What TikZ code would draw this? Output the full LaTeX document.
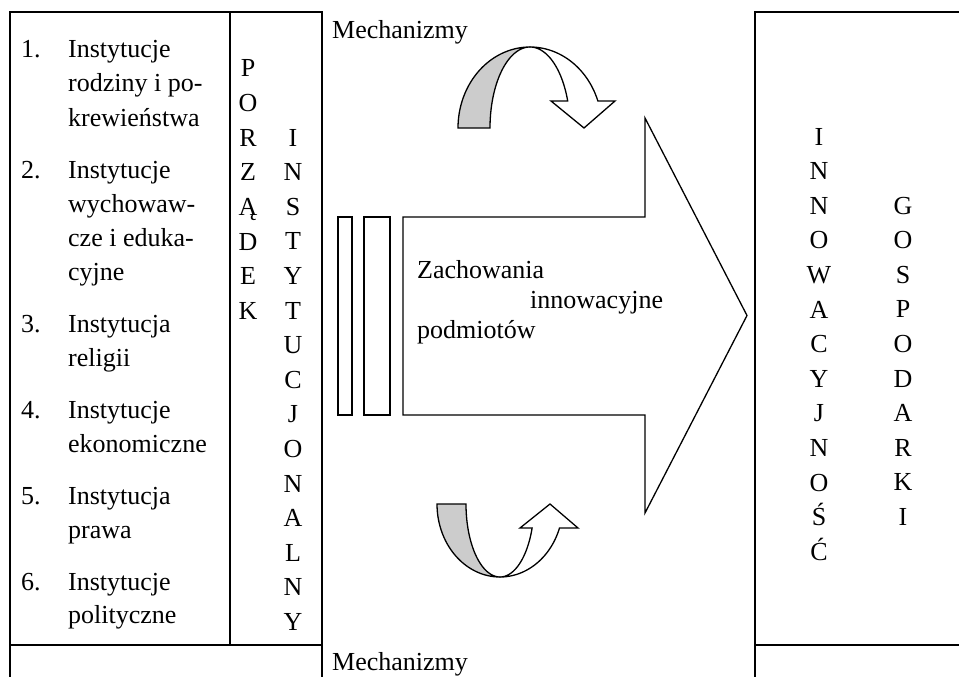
\documentclass[tikz,border=0pt]{standalone}
\usepackage{fontspec}
\setmainfont{Liberation Serif}
\definecolor{ribbongray}{RGB}{204,204,204}
\begin{document}
\begin{tikzpicture}[x=1pt,y=-1pt,
  frame/.style={line width=2.2pt, line cap=rect},
  thinline/.style={line width=1.3pt, line join=miter},
  txt/.style={inner sep=0pt, font=\fontsize{26}{34.6}\selectfont},
  lbl/.style={txt, anchor=base west},
  letter/.style={txt, anchor=base},
]
\useasboundingbox (0,0) rectangle (959,677);

% ---------- left frame ----------
\draw[frame] (10,677) -- (10,12) -- (322,12) -- (322,677);
\draw[frame] (230,12) -- (230,645);
\draw[frame] (10,645) -- (322,645);

% ---------- right frame ----------
\draw[frame] (755,677) -- (755,12) -- (959,12);
\draw[frame] (755,645) -- (959,645);

% ---------- list ----------
\node[lbl] (n1) at (21,58) {1.};
\node[lbl] (t1a) at (68,58) {Instytucje};
\node[lbl] (t1b) at (68,92) {rodziny i po-};
\node[lbl] (t1c) at (68,126) {krewieństwa};
\node[lbl] (n2) at (21,178) {2.};
\node[lbl] (t2a) at (68,178) {Instytucje};
\node[lbl] (t2b) at (68,212) {wychowaw-};
\node[lbl] (t2c) at (68,246) {cze i eduka-};
\node[lbl] (t2d) at (68,280) {cyjne};
\node[lbl] (n3) at (21,332) {3.};
\node[lbl] (t3a) at (68,332) {Instytucja};
\node[lbl] (t3b) at (68,366) {religii};
\node[lbl] (n4) at (21,418) {4.};
\node[lbl] (t4a) at (68,418) {Instytucje};
\node[lbl] (t4b) at (68,452) {ekonomiczne};
\node[lbl] (n5) at (21,504) {5.};
\node[lbl] (t5a) at (68,504) {Instytucja};
\node[lbl] (t5b) at (68,538) {prawa};
\node[lbl] (n6) at (21,590) {6.};
\node[lbl] (t6a) at (68,590) {Instytucje};
\node[lbl] (t6b) at (68,623) {polityczne};

% ---------- vertical words ----------
\foreach \c [count=\i from 0] in {P,O,R,Z,Ą,D,E,K}
  \node[letter] (por\i) at (248,{77+34.6*\i}) {\c};
\foreach \c [count=\i from 0] in {I,N,S,T,Y,T,U,C,J,O,N,A,L,N,Y}
  \node[letter] (ins\i) at (293,{146+34.6*\i}) {\c};
\foreach \c [count=\i from 0] in {I,N,N,O,W,A,C,Y,J,N,O,Ś,Ć}
  \node[letter] (inn\i) at (819,{145+34.6*\i}) {\c};
\foreach \c [count=\i from 0] in {G,O,S,P,O,D,A,R,K,I}
  \node[letter] (gos\i) at (903,{214+34.6*\i}) {\c};

% ---------- mechanisms labels ----------
\node[lbl] (mtop) at (332,39) {Mechanizmy};
\node[lbl] (mbot) at (332,670) {Mechanizmy};

% ---------- big arrow ----------
\draw[thinline] (338,217) rectangle (352,415);
\draw[thinline] (364,217) rectangle (390,415);
\draw[thinline] (403,217) -- (645,217) -- (645,118) -- (747,315.5)
  -- (645,513) -- (645,415) -- (403,415) -- cycle;
\node[lbl] (z1) at (417,278) {Zachowania};
\node[lbl] (z2) at (530,308) {innowacyjne};
\node[lbl] (z3) at (417,338) {podmiotów};

% ---------- top curved arrow ----------
\filldraw[thinline, fill=ribbongray]
  plot[domain=180:90, samples=40, variable=\t] ({530+72*cos(\t)},{128-81*sin(\t)})
  -- plot[domain=90:180, samples=40, variable=\t] ({530+40*cos(\t)},{128-81*sin(\t)})
  -- cycle;
\filldraw[thinline, fill=white]
  plot[domain=90:19.47, samples=40, variable=\t] ({530+72*cos(\t)},{128-81*sin(\t)})
  -- (615,101) -- (584,128) -- (551,101)
  -- plot[domain=19.47:90, samples=40, variable=\t] ({530+40*cos(\t)},{128-81*sin(\t)})
  -- cycle;

% ---------- bottom curved arrow ----------
\filldraw[thinline, fill=ribbongray]
  plot[domain=180:90, samples=40, variable=\t] ({500+63*cos(\t)},{504+73*sin(\t)})
  -- plot[domain=90:180, samples=40, variable=\t] ({500+34*cos(\t)},{504+73*sin(\t)})
  -- cycle;
\filldraw[thinline, fill=white]
  plot[domain=90:19.2, samples=40, variable=\t] ({500+63*cos(\t)},{504+73*sin(\t)})
  -- (578,528) -- (550,504) -- (520,528)
  -- plot[domain=19.2:90, samples=40, variable=\t] ({500+34*cos(\t)},{504+73*sin(\t)})
  -- cycle;
\end{tikzpicture}
\end{document}
